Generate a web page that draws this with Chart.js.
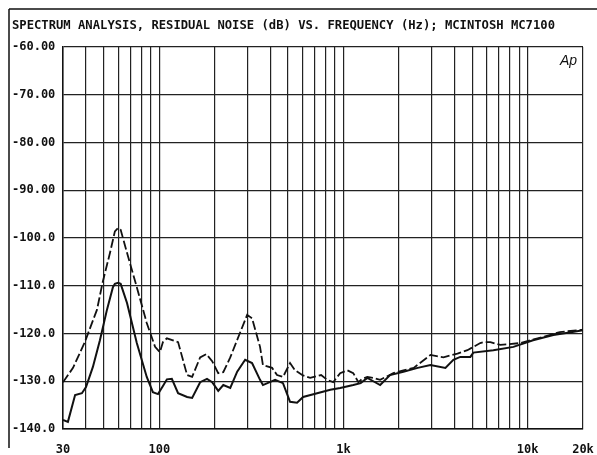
<!DOCTYPE html>
<html lang="en">
<head>
  <meta charset="UTF-8" />
  <title>Residual Noise Spectrum</title>
  <script src="https://cdn.jsdelivr.net/npm/chart.js"></script>
  <style>
    body {
      margin: 0;
      padding: 0;
      background-color: #ffffff;
    }

    #chart {
      display: block;
    }
  </style>
</head>
<body>
  <canvas id="chart" width="597" height="455"></canvas>

  <script>
    // Upper trace (dashed)
    const dashFreq = [30, 34, 39.4, 45.9, 49.3, 54, 57.4, 59.7, 61.7, 66.8, 75.5, 85.5, 94.9, 100.8, 104.7, 110, 126.5, 141.6, 150.8, 166.7, 180, 193.7, 209, 222.6, 242.9, 300, 319, 352.5, 365.5, 410, 436, 469.7, 513, 546, 597, 660, 757, 816, 880, 960, 1049, 1131, 1205, 1265, 1349, 1453, 1583, 1867, 2117, 2408, 2968, 3491, 4160, 4712, 5536, 5815, 6281, 7112, 9141, 12170, 14960, 20000];
    const dashLevel = [-130.2, -127.2, -121.8, -115, -109.2, -103.1, -98.6, -97.9, -98.3, -103.1, -110.3, -117.8, -122.8, -123.9, -121.8, -121, -121.8, -128.7, -129.1, -125, -124.3, -125.8, -128.3, -128.1, -125, -116.1, -116.8, -122.8, -126.6, -127.2, -128.7, -129.1, -126.2, -127.7, -128.7, -129.3, -128.7, -129.7, -130.2, -128.3, -127.7, -128.3, -130.2, -129.5, -129.1, -129.3, -129.7, -128.3, -127.7, -127.2, -124.5, -125, -124.2, -123.5, -122, -121.8, -121.8, -122.4, -122, -120.7, -119.7, -119.2];

    // Lower trace (solid)
    const solidFreq = [30, 31.9, 34.9, 38, 40, 43.6, 47.6, 52, 56, 57.4, 59.7, 61.7, 66.8, 75.5, 85.5, 92.3, 98.4, 104.7, 110, 117, 126.5, 141.6, 150.8, 166.7, 181.6, 193.7, 209, 222.6, 242.9, 264.9, 292.6, 319, 352.5, 365.5, 425.6, 469.7, 513, 560, 604, 720, 849, 960, 1131, 1240, 1349, 1453, 1583, 1791, 2117, 2531, 2968, 3580, 3954, 4312, 4890, 5076, 6519, 8379, 10710, 13810, 16880, 20000];
    const solidLevel = [-138.1, -138.5, -132.9, -132.5, -131.2, -127, -121.4, -115, -110.3, -109.6, -109.4, -109.6, -113.6, -122, -129.1, -132.3, -132.7, -131, -129.6, -129.5, -132.5, -133.3, -133.5, -130.2, -129.5, -130.2, -132, -130.8, -131.4, -128, -125.5, -126.2, -129.7, -130.8, -129.7, -130.4, -134.3, -134.5, -133.3, -132.5, -131.8, -131.4, -130.8, -130.4, -129.3, -130, -130.8, -128.7, -128, -127.2, -126.6, -127.2, -125.5, -124.9, -124.9, -124, -123.5, -122.8, -121.4, -120.3, -119.8, -119.3];

    // Axis ticks
    const gridFreqs = [30, 40, 50, 60, 70, 80, 90, 100, 200, 300, 400, 500, 600, 700, 800, 900, 1000, 2000, 3000, 4000, 5000, 6000, 7000, 8000, 9000, 10000, 20000];
    const xLabelFreqs = [30, 100, 1000, 10000, 20000];
    const xLabels = ['30', '100', '1k', '10k', '20k'];
    const yTicks = [-60, -70, -80, -90, -100, -110, -120, -130, -140];
    const yLabels = ['-60.00', '-70.00', '-80.00', '-90.00', '-100.0', '-110.0', '-120.0', '-130.0', '-140.0'];

    const titleText = 'SPECTRUM ANALYSIS, RESIDUAL NOISE (dB) VS. FREQUENCY (Hz); MCINTOSH MC7100';
    const monoFont = "'DejaVu Sans Mono', monospace";

    const toPoints = (xs, ys) => xs.map((x, i) => ({ x: x, y: ys[i] }));

    // frame, title and the "Ap" mark
    const framePlugin = {
      id: 'frame',
      beforeDraw(chart) {
        const ctx = chart.ctx;
        ctx.save();
        ctx.fillStyle = '#ffffff';
        ctx.fillRect(0, 0, chart.width, chart.height);
        ctx.restore();
      },
      afterDraw(chart) {
        const ctx = chart.ctx;
        const area = chart.chartArea;
        ctx.save();
        ctx.strokeStyle = '#111';
        ctx.lineWidth = 1.5;
        ctx.beginPath();
        ctx.moveTo(9, 9);
        ctx.lineTo(chart.width, 9);
        ctx.moveTo(9, 9);
        ctx.lineTo(9, 448);
        ctx.stroke();

        ctx.fillStyle = '#111';
        ctx.font = 'bold 12.2px ' + monoFont;
        ctx.textAlign = 'left';
        ctx.textBaseline = 'middle';
        ctx.fillText(titleText, 12, 26);

        ctx.font = 'italic 14px "Liberation Sans", sans-serif';
        ctx.textAlign = 'right';
        ctx.fillText('Ap', area.right - 6, area.top + 14);
        ctx.restore();
      }
    };

    new Chart(document.getElementById('chart').getContext('2d'), {
      type: 'scatter',
      data: {
        datasets: [
          {
            label: 'Dashed',
            data: toPoints(dashFreq, dashLevel),
            showLine: true,
            borderColor: '#111',
            borderWidth: 1.8,
            borderDash: [9, 3],
            pointRadius: 0,
            tension: 0
          },
          {
            label: 'Solid',
            data: toPoints(solidFreq, solidLevel),
            showLine: true,
            borderColor: '#111',
            borderWidth: 2,
            pointRadius: 0,
            tension: 0
          }
        ]
      },
      options: {
        responsive: false,
        animation: false,
        layout: {
          padding: { left: 12, right: 14, top: 47, bottom: 0 }
        },
        plugins: {
          legend: { display: false },
          tooltip: { enabled: false }
        },
        scales: {
          x: {
            type: 'logarithmic',
            min: 30,
            max: 20000,
            afterBuildTicks: scale => {
              scale.ticks = gridFreqs.map(v => ({ value: v }));
            },
            afterFit: scale => {
              scale.height = 26;
              scale.paddingLeft = 0;
              scale.paddingRight = 0;
            },
            grid: {
              color: '#222',
              lineWidth: 1.2,
              drawTicks: false
            },
            border: { display: true, color: '#111', width: 1.5 },
            ticks: {
              autoSkip: false,
              maxRotation: 0,
              padding: 14,
              color: '#111',
              font: { family: monoFont, size: 12, weight: 'bold' },
              callback: value => {
                const i = xLabelFreqs.indexOf(value);
                return i >= 0 ? xLabels[i] : '';
              }
            }
          },
          y: {
            min: -140,
            max: -60,
            afterBuildTicks: scale => {
              scale.ticks = yTicks.map(v => ({ value: v }));
            },
            afterFit: scale => {
              scale.width = 51;
              scale.paddingTop = 0;
              scale.paddingBottom = 0;
            },
            grid: {
              color: '#222',
              lineWidth: 1.2,
              drawTicks: false
            },
            border: { display: true, color: '#111', width: 1.5 },
            ticks: {
              crossAlign: 'far',
              padding: 6,
              color: '#111',
              font: { family: monoFont, size: 12, weight: 'bold' },
              callback: value => {
                const i = yTicks.indexOf(value);
                return i >= 0 ? yLabels[i] : '';
              }
            }
          }
        }
      },
      plugins: [framePlugin]
    });
  </script>
</body>
</html>
